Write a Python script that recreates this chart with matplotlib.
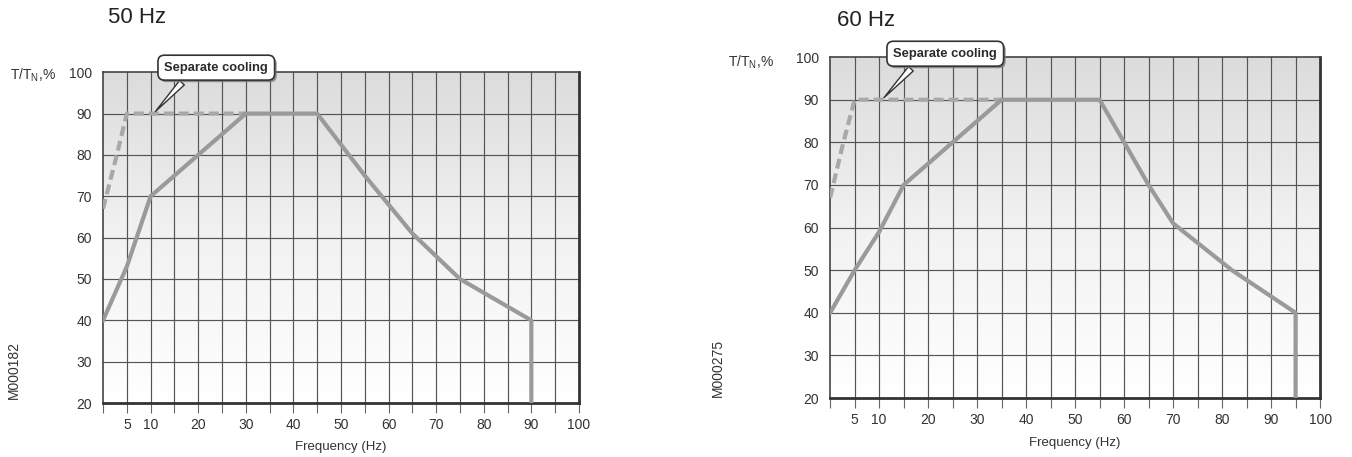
import numpy as np
import matplotlib
matplotlib.use("Agg")
import matplotlib.pyplot as plt
from matplotlib.colors import LinearSegmentedColormap
from matplotlib import patheffects as pe

plt.rcParams['font.family'] = ['Liberation Sans', 'DejaVu Sans']

# x tick labels and y ticks
freq_labels = [5, 10, 20, 30, 40, 50, 60, 70, 80, 90, 100]
torque_ticks = [20, 30, 40, 50, 60, 70, 80, 90, 100]

# 50 Hz motor
f50_solid = [0, 5, 10, 20, 30, 45, 55, 65, 75, 90, 90]
t50_solid = [40, 53, 70, 80, 90, 90, 75, 61, 50, 40, 20]
f50_dash = [0, 2.9, 5, 30]
t50_dash = [67, 80, 90, 90]

# 60 Hz motor
f60_solid = [0, 5, 10, 15, 25, 35, 55, 60, 65, 70, 82, 95, 95]
t60_solid = [40, 50, 59, 70, 80, 90, 90, 80, 70, 61, 50, 40, 20]
f60_dash = [0, 2.7, 5, 35]
t60_dash = [67, 80, 90, 90]

panels = [
    dict(rect=[0.0762, 0.118, 0.352, 0.724], title="50 Hz", title_xy=(0.080, 0.961),
         ylab_xy=(0.0074, 0.836), code="M000182", code_xy=(0.0104, 0.19),
         fs=f50_solid, ts=t50_solid, fd=f50_dash, td=t50_dash, box=(23.8, 101.1)),
    dict(rect=[0.614, 0.129, 0.3624, 0.746], title="60 Hz", title_xy=(0.619, 0.956),
         ylab_xy=(0.5385, 0.864), code="M000275", code_xy=(0.531, 0.195),
         fs=f60_solid, ts=t60_solid, fd=f60_dash, td=t60_dash, box=(23.5, 100.8)),
]

cmap = LinearSegmentedColormap.from_list("bg", ["#ffffff", "#f2f2f2", "#dcdcdc"])

fig = plt.figure(figsize=(13.52, 4.57), dpi=100)

for p in panels:
    ax = fig.add_axes(p['rect'])
    grad = np.linspace(0, 1, 256).reshape(-1, 1)
    ax.imshow(grad, cmap=cmap, origin='lower', extent=[0, 100, 20, 100],
              aspect='auto', zorder=0)
    ax.set_xlim(0, 100)
    ax.set_ylim(20, 100)

    for x in range(5, 100, 5):
        ax.axvline(x, color='#555555', lw=0.85, zorder=1)
    for y in range(30, 100, 10):
        ax.axhline(y, color='#555555', lw=0.85, zorder=1)

    ax.plot(p['fd'], p['td'], color='#a8a8a8', lw=3, ls=(0, (2.4, 1.2)), zorder=3,
            solid_capstyle='butt')
    ax.plot(p['fs'], p['ts'], color='#9a9a9a', lw=3, zorder=4, solid_joinstyle='round')

    xt = list(range(0, 105, 5))
    ax.set_xticks(xt)
    ax.set_xticklabels([str(v) if v in freq_labels else '' for v in xt])
    ax.set_yticks(torque_ticks)
    ax.tick_params(axis='x', length=7, width=0.8, color='#666666', pad=3.5,
                   labelsize=10, labelcolor='#333333')
    ax.tick_params(axis='y', length=0, pad=8, labelsize=10, labelcolor='#333333')

    for side in ['left', 'top']:
        ax.spines[side].set_color('#444444')
        ax.spines[side].set_linewidth(1.2)
    for side in ['right', 'bottom']:
        ax.spines[side].set_color('#333333')
        ax.spines[side].set_linewidth(2)

    ax.text(0.5, -0.133, "Frequency (Hz)", transform=ax.transAxes, ha='center',
            va='center', fontsize=9.5, color='#333333')

    ann = ax.annotate("Separate cooling", xy=(10.6, 90), xytext=p['box'],
                      ha='center', va='center', fontsize=9.3, fontweight='bold',
                      color='#2a2a2a', annotation_clip=False, zorder=10,
                      bbox=dict(boxstyle='round,pad=0.5,rounding_size=0.5',
                                fc='white', ec='#333333', lw=1.2),
                      arrowprops=dict(arrowstyle='wedge,tail_width=0.5,shrink_factor=0.5',
                                      fc='white', ec='#333333', lw=1.0,
                                      relpos=(0.25, 0.0)))
    ann.get_bbox_patch().set_path_effects([
        pe.SimplePatchShadow(offset=(1.5, -1.5), shadow_rgbFace='#777777', alpha=0.8),
        pe.Normal()])

    fig.text(p['title_xy'][0], p['title_xy'][1], p['title'], fontsize=16,
             ha='left', va='center', color='#222222')
    fig.text(p['ylab_xy'][0], p['ylab_xy'][1], r'T/T$_\mathregular{N}$,%',
             fontsize=10, ha='left', va='center', color='#333333')
    fig.text(p['code_xy'][0], p['code_xy'][1], p['code'], rotation=90,
             fontsize=10, ha='center', va='center', color='#333333')

fig.savefig("out.png", dpi=100)
